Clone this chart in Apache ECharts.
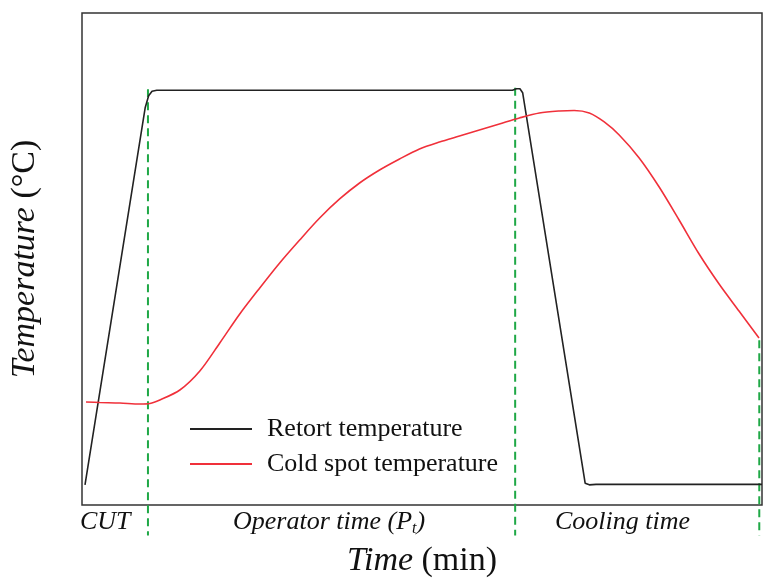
<!DOCTYPE html>
<html>
<head>
<meta charset="utf-8">
<script src="https://cdn.jsdelivr.net/npm/echarts@6/dist/echarts.min.js"></script>
<style>html,body{margin:0;padding:0;background:#fff}#c{width:766px;height:578px}</style>
</head>
<body>
<div id="c"></div>
<script>
// Retort temperature (time, temperature) in relative units
const retortTime = [0.44, 9.3, 9.8, 10.3, 11.0, 63.3, 63.9, 64.4, 64.8, 74.0, 74.6, 75.6, 100];
const retortTemp = [4.1, 80.8, 83.2, 84.1, 84.3, 84.3, 84.6, 84.6, 83.8, 4.4, 4.1, 4.2, 4.2];
// Cold spot temperature
const coldTime = [0.59, 2.64, 5.58, 8.52, 9.99, 11.45, 14.39, 17.33, 20.26, 23.20, 26.14, 29.07, 32.01, 34.95, 37.89, 40.82, 43.76, 46.70, 49.63, 52.57, 55.51, 58.44, 61.38, 64.32, 67.25, 70.19, 72.39, 74.60, 76.80, 79.00, 81.94, 84.88, 87.81, 90.75, 93.69, 96.62, 99.56];
const coldTemp = [20.93, 20.83, 20.73, 20.53, 20.63, 21.34, 23.37, 27.24, 32.93, 38.82, 44.11, 49.19, 53.86, 58.33, 62.20, 65.45, 68.09, 70.33, 72.36, 73.78, 75.00, 76.22, 77.44, 78.66, 79.67, 80.08, 80.18, 79.67, 77.85, 75.20, 70.53, 64.63, 57.93, 51.02, 44.92, 39.43, 33.94];
// Phase boundaries (time)
const phaseBounds = [9.7, 63.7, 99.6];
const phaseTop = [84.5, 84.8, 33.5];
const phaseBottom = -6.2;
const seriesNames = ['Retort temperature', 'Cold spot temperature'];

const zip = (a, b) => a.map((v, i) => [v, b[i]]);
const serif = 'Liberation Serif';

const green = phaseBounds.map((x, i) => ({
  type: 'line', data: [[x, phaseTop[i]], [x, phaseBottom]], symbol: 'none', clip: false,
  silent: true, z: 1,
  lineStyle: { color: '#1fa846', width: 2, type: [8, 5] }
}));

const titleRich = { i: { fontFamily: serif, fontStyle: 'italic', fontSize: 34, color: '#111' }, n: { fontFamily: serif, fontSize: 34, color: '#111' } };

const chart = echarts.init(document.getElementById('c'));
chart.setOption({
  animation: false,
  grid: { left: 82, right: 4, top: 13, bottom: 73, show: true, borderColor: '#333', borderWidth: 1.5, containLabel: false, outerBoundsMode: 'none' },
  xAxis: {
    type: 'value', min: 0, max: 100,
    axisLine: { show: false }, axisTick: { show: false }, axisLabel: { show: false }, splitLine: { show: false },
    name: '{i|Time}{n| (min)}', nameLocation: 'middle', nameGap: 39,
    nameTextStyle: { rich: titleRich }
  },
  yAxis: {
    type: 'value', min: 0, max: 100,
    axisLine: { show: false }, axisTick: { show: false }, axisLabel: { show: false }, splitLine: { show: false },
    name: '{i|Temperature}{n| (°C)}', nameLocation: 'middle', nameGap: 40,
    nameTextStyle: { rich: titleRich }
  },
  legend: {
    orient: 'vertical', left: 185, top: 409, itemWidth: 62, itemHeight: 2, itemGap: 5,
    icon: 'rect',
    data: seriesNames,
    textStyle: { fontFamily: serif, fontSize: 26, color: '#111', lineHeight: 30, padding: [0, 0, 0, 10] }
  },
  graphic: [
    { type: 'text', left: 80, top: 509, style: { text: 'CUT', font: 'italic 26px "Liberation Serif"', fill: '#111' } },
    { type: 'text', left: 233, top: 509, style: { text: '{i|Operator time (P}{s|t}{i|)}', fill: '#111',
      rich: { i: { fontFamily: serif, fontStyle: 'italic', fontSize: 26 }, s: { fontFamily: serif, fontStyle: 'italic', fontSize: 16, padding: [14, 0, 0, 0] } } } },
    { type: 'text', left: 555, top: 509, style: { text: 'Cooling time', font: 'italic 26px "Liberation Serif"', fill: '#111' } }
  ],
  series: [
    { name: seriesNames[0], type: 'line', data: zip(retortTime, retortTemp), symbol: 'none', z: 3,
      lineStyle: { color: '#222', width: 1.6 }, itemStyle: { color: '#222' } },
    { name: seriesNames[1], type: 'line', data: zip(coldTime, coldTemp), symbol: 'none', smooth: 0.3, z: 3,
      lineStyle: { color: '#f0303a', width: 1.6 }, itemStyle: { color: '#f0303a' } },
    ...green
  ]
});
</script>
</body>
</html>
